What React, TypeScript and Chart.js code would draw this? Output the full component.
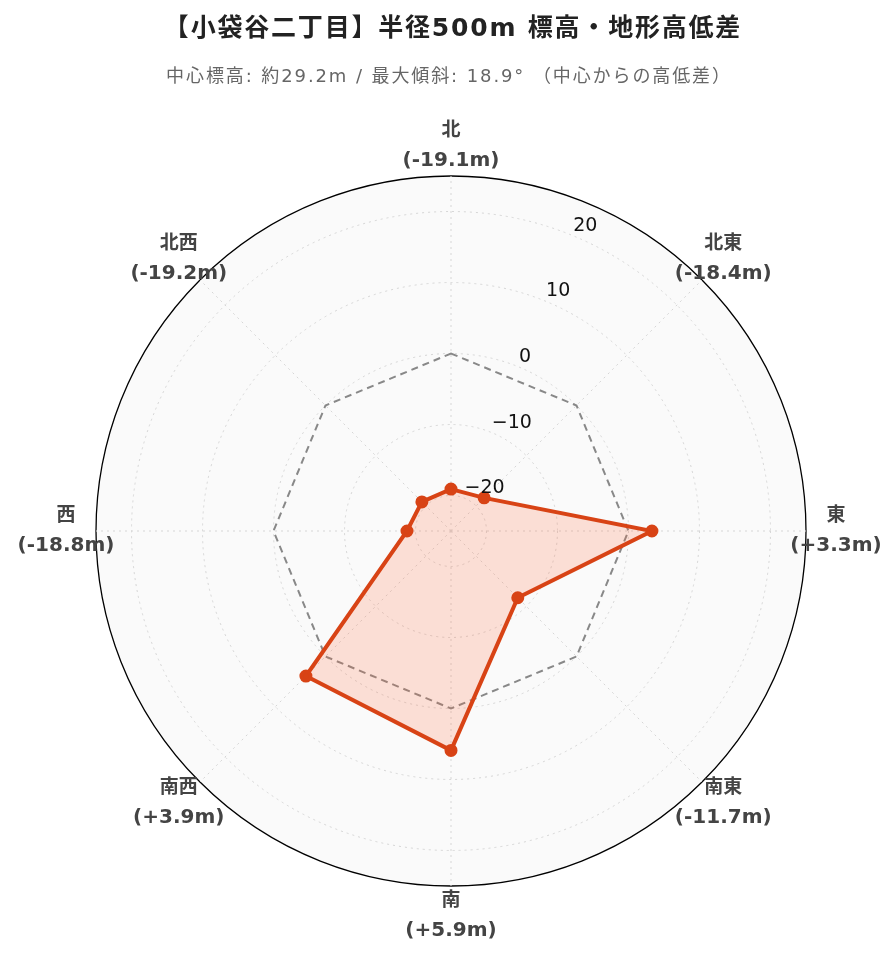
import React, { useEffect, useRef } from 'react';
import { Chart, registerables } from 'chart.js';

Chart.register(...registerables);

const TITLE = '【小袋谷二丁目】半径500m 標高・地形高低差';
const SUBTITLE = '中心標高: 約29.2m / 最大傾斜: 18.9° （中心からの高低差）';
const directions = ['北', '北東', '東', '南東', '南', '南西', '西', '北西'];
const elevationDiff = [-19.1, -18.4, 3.3, -11.7, 5.9, 3.9, -18.8, -19.2];
const referenceLevel = [0, 0, 0, 0, 0, 0, 0, 0];
const radialTicks = [-20, -10, 0, 10, 20];
const R_MIN = -25;
const R_MAX = 25;

const FONT = '"DejaVu Sans", "Noto Sans CJK JP", sans-serif';

const fmt = (v: number) => `(${v > 0 ? '+' : ''}${v.toFixed(1)}m)`;

const textPlugin = {
  id: 'customText',
  afterDraw(chart: any) {
    const ctx = chart.ctx;
    const scale = chart.scales.r;
    ctx.save();
    // title
    ctx.textAlign = 'center';
    ctx.textBaseline = 'middle';
    ctx.fillStyle = '#222';
    ctx.font = `bold 25px ${FONT}`;
    (ctx as any).letterSpacing = '1.8px';
    ctx.fillText(TITLE, 453, 29);
    ctx.fillStyle = '#666';
    ctx.font = `18px ${FONT}`;
    (ctx as any).letterSpacing = '1.9px';
    ctx.fillText(SUBTITLE, 449, 77);
    (ctx as any).letterSpacing = '0px';

    // tick labels along 22.5deg
    const a = (22.5 * Math.PI) / 180;
    ctx.textAlign = 'left';
    ctx.textBaseline = 'middle';
    ctx.fillStyle = '#111';
    ctx.font = `19px ${FONT}`;
    radialTicks.forEach((v) => {
      const d = scale.getDistanceFromCenterForValue(v);
      const x = scale.xCenter + Math.sin(a) * d;
      const y = scale.yCenter - Math.cos(a) * d - 10;
      const txt = v < 0 ? '\u2212' + Math.abs(v) : String(v);
      ctx.fillText(txt, x, y);
    });

    // point labels
    ctx.textAlign = 'center';
    ctx.fillStyle = '#444';
    directions.forEach((lab, i) => {
      const p = scale.getPointPosition(i, scale.drawingArea + 30);
      ctx.font = `bold 19px ${FONT}`;
      ctx.fillText(lab, p.x, p.y - 15);
      ctx.font = `bold 20px ${FONT}`;
      ctx.fillText(fmt(elevationDiff[i]), p.x, p.y + 15);
    });
    ctx.restore();
  },
};

export default function App() {
  const ref = useRef<HTMLCanvasElement | null>(null);
  useEffect(() => {
    if (!ref.current) return;
    const chart = new Chart(ref.current, {
      type: 'radar',
      data: {
        labels: directions,
        datasets: [
          {
            label: '高低差',
            data: elevationDiff,
            borderColor: '#d84315',
            backgroundColor: 'rgba(255,112,67,0.2)',
            borderWidth: 4,
            pointRadius: 4.5,
            pointBackgroundColor: '#d84315',
            pointBorderColor: '#d84315',
            fill: 'start',
            order: 1,
          },
          {
            label: '中心',
            data: referenceLevel,
            borderColor: '#888',
            borderWidth: 2,
            borderDash: [7, 5],
            pointRadius: 0,
            fill: false,
            order: 2,
          },
        ],
      },
      options: {
        animation: false,
        responsive: false,
        maintainAspectRatio: false,
        layout: { padding: { left: 96, right: 90, top: 176, bottom: 76 } },
        plugins: {
          legend: { display: false },
          title: { display: false },
          tooltip: { enabled: false },
        },
        scales: {
          r: {
            min: R_MIN,
            max: R_MAX,
            backgroundColor: '#fafafa',
            afterBuildTicks: (s: any) => {
              s.ticks = [R_MIN, ...radialTicks, R_MAX].map((v) => ({ value: v }));
            },
            ticks: { display: false },
            pointLabels: { display: false },
            grid: {
              circular: true,
              color: (c: any) => (c.tick && c.tick.value === R_MAX ? '#000' : '#d6d6d6'),
              lineWidth: (c: any) => (c.tick && c.tick.value === R_MAX ? 1.3 : 1),
            },
            border: {
              dash: (c: any) => (c.tick && c.tick.value === R_MAX ? [] : [2, 4]),
            },
            angleLines: {
              color: '#d6d6d6',
              lineWidth: 1,
              borderDash: [2, 4],
            },
          },
        },
      },
      plugins: [textPlugin],
    } as any);
    return () => chart.destroy();
  }, []);
  return (
    <div style={{ position: 'absolute', left: 0, top: 0, width: 896, height: 962, background: '#fff' }}>
      <canvas ref={ref} width={896} height={962} style={{ width: 896, height: 962, display: 'block' }} />
    </div>
  );
}
